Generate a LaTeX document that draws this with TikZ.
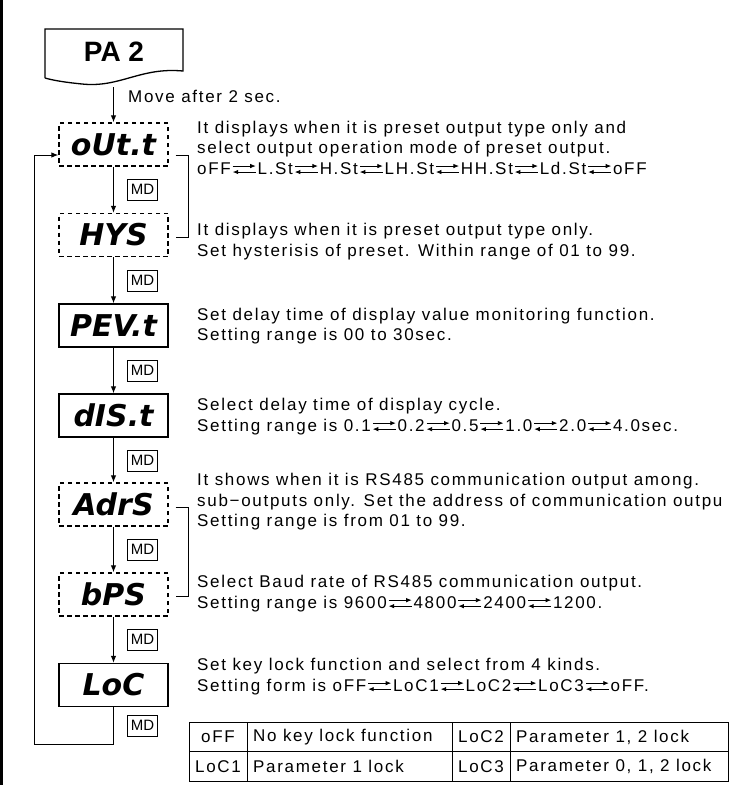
\documentclass[tikz,border=0pt]{standalone}
\usepackage{fontspec}
\setmainfont{Liberation Sans}
\newfontfamily\notefont{Liberation Sans}[LetterSpace=10]
\newfontfamily\segfont{DejaVu Sans}
\usetikzlibrary{arrows.meta,positioning}

% doble flecha entre valores
\newcommand{\lrarr}{\kern1.5pt\tikz[baseline=0pt,x=1pt,y=1pt]{%
  \draw[line width=0.8pt,-{Latex[length=5.5pt,width=4.5pt]}] (0,8) -- (23,8);
  \draw[line width=0.8pt,-{Latex[length=5.5pt,width=4.5pt]}] (23,2) -- (0,2);}\kern1.5pt}

\begin{document}
\begin{tikzpicture}[x=1pt,y=-1pt,
  flow/.style={line width=1pt,-{Latex[length=7pt,width=5.5pt]}},
  link/.style={line width=1pt},
  disp/.style={draw,line width=1.3pt,minimum width=109pt,minimum height=43pt,inner sep=0pt,
    font=\segfont\bfseries\itshape\fontsize{30}{30}\selectfont},
  dispopt/.style={disp,dash pattern=on 4.5pt off 3.5pt},
  mdkey/.style={draw,line width=1pt,minimum width=30pt,minimum height=21pt,inner sep=0pt,
    font=\fontsize{15}{15}\selectfont},
  note/.style={anchor=west,align=left,inner sep=0pt,font=\notefont\fontsize{17}{20.5}\selectfont},
  cell/.style={inner sep=0pt,font=\notefont\fontsize{17}{17}\selectfont}]

	\useasboundingbox (0,0) rectangle (735,785);

	% Borde
	\draw [line width=3pt] (1.5,0) -- (1.5,785);

	% Cabecera PA 2
	\draw [line width=1.3pt] (45,78) -- (45,29) -- (183,29) -- (183,71)
	  .. controls (140,67) and (120,88) .. (82,84) .. controls (62,82) and (52,80) .. (45,78);
	\node [font=\bfseries\fontsize{28}{28}\selectfont] (pa2) at (114,52) {PA 2};
	\coordinate (pa2out) at (113.5,87);

	% Displays
	\node [dispopt] (outt) at (113.5,144.5) {oUt.t};
	\node [dispopt] (hys)  at (113.5,235)   {HYS};
	\node [disp]    (peut) at (113.5,325.5) {PEV.t};
	\node [disp]    (dist) at (113.5,415.5) {dIS.t};
	\node [dispopt] (adrs) at (113.5,504.5) {AdrS};
	\node [dispopt] (bps)  at (113.5,594.5) {bPS};
	\node [disp]    (loc)  at (113.5,685)   {LoC};

	% Teclas MD
	\node [mdkey] (md1) at (142.5,189.5) {MD};
	\node [mdkey] (md2) at (142.5,280.5) {MD};
	\node [mdkey] (md3) at (142.5,370.5) {MD};
	\node [mdkey] (md4) at (142.5,460.5) {MD};
	\node [mdkey] (md5) at (142.5,549.5) {MD};
	\node [mdkey] (md6) at (142.5,639.5) {MD};
	\node [mdkey] (md7) at (142.5,725.5) {MD};

	% Flujo
	\draw [flow] (pa2out) -- (outt);
	\draw [flow] (outt) -- (hys);
	\draw [flow] (hys) -- (peut);
	\draw [flow] (peut) -- (dist);
	\draw [flow] (dist) -- (adrs);
	\draw [flow] (adrs) -- (bps);
	\draw [flow] (bps) -- (loc);
	\coordinate (loopb) at (34,744);
	\coordinate (loopt) at (34,155);
	\draw [flow] (loc) |- (loopb) -- (loopt) -- (loopt -| outt.west);

	% Corchetes
	\draw [link] ([shift={(7,10.5)}]outt.east) -| ([shift={(20,2)}]hys.east) -- ([shift={(7,2)}]hys.east);
	\draw [link] ([shift={(7,2.5)}]adrs.east) -| ([shift={(20,1.5)}]bps.east) -- ([shift={(7,1.5)}]bps.east);

	% Textos
	\node [note] (tmove) at (128,96) {Move after 2 sec.};
	\node [note] (touttt) at (197,147.5) {It displays when it is preset output type only and\\
	  select output operation mode of preset output.\\
	  oFF\lrarr L.St\lrarr H.St\lrarr LH.St\lrarr HH.St\lrarr Ld.St\lrarr oFF};
	\node [note] (thys) at (197,241.5) {It displays when it is preset output type only.\\
	  Set hysterisis of preset. Within range of 01 to 99.};
	\node [note] (tpeut) at (197,326) {Set delay time of display value monitoring function.\\
	  Setting range is 00 to 30sec.};
	\node [note] (tdist) at (197,416.5) {Select delay time of display cycle.\\
	  Setting range is 0.1\lrarr 0.2\lrarr 0.5\lrarr 1.0\lrarr 2.0\lrarr 4.0sec.};
	\node [note] (tadrs) at (197,502) {It shows when it is RS485 communication output among.\\
	  sub−outputs only. Set the address of communication outpu\\
	  Setting range is from 01 to 99.};
	\node [note] (tbps) at (197,593.5) {Select Baud rate of RS485 communication output.\\
	  Setting range is 9600\lrarr 4800\lrarr 2400\lrarr 1200.};
	\node [note] (tloc) at (197,676.5) {Set key lock function and select from 4 kinds.\\
	  Setting form is oFF\lrarr LoC1\lrarr LoC2\lrarr LoC3\lrarr oFF.};

	% Tabla
	\draw [link] (189,722) rectangle (728,781);
	\draw [link] (189,751.5) -- (728,751.5);
	\foreach \x in {247,452,510}
	  \draw [link] (\x,722) -- (\x,781);
	\node [cell] (coff) at (218,737) {oFF};
	\node [cell] (cloc1) at (218,766.5) {LoC1};
	\node [cell,anchor=west] (cnone) at (253,737) {No key lock function};
	\node [cell,anchor=west] (cp1) at (253,766.5) {Parameter 1 lock};
	\node [cell] (cloc2) at (481,737) {LoC2};
	\node [cell] (cloc3) at (481,766.5) {LoC3};
	\node [cell,anchor=west] (cp12) at (516,737) {Parameter 1, 2 lock};
	\node [cell,anchor=west] (cp012) at (516,766.5) {Parameter 0, 1, 2 lock};
\end{tikzpicture}
\end{document}
